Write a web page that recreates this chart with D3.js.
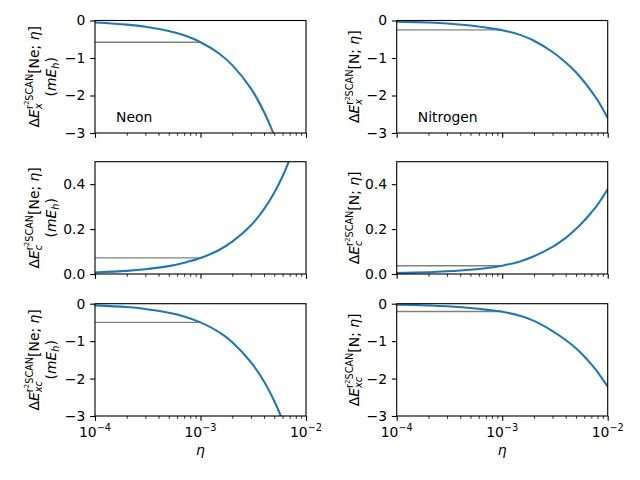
<!DOCTYPE html>
<html>
<head>
<meta charset="utf-8">
<script src="https://cdn.jsdelivr.net/npm/d3@7"></script>
<style>
  body { margin: 0; background: #fff; }
  svg { font-family: "DejaVu Sans", sans-serif; }
</style>
</head>
<body>
<svg id="fig" width="640" height="480"></svg>
<script>
// eta grid
var eta = [1e-4, 2e-4, 3e-4, 5e-4, 7e-4, 1e-3, 1.5e-3, 2e-3, 3e-3, 4e-3, 5e-3, 6e-3, 7e-3, 8e-3, 1e-2];

// exchange, correlation and xc errors (mE_h)
var neonX   = [-0.055, -0.11, -0.165, -0.28, -0.395, -0.58, -0.88, -1.19, -1.81, -2.44, -3.07, -3.7, -4.35, -5.0, -6.3];
var nitroX  = [-0.03, -0.055, -0.08, -0.135, -0.188, -0.26, -0.39, -0.54, -0.84, -1.12, -1.38, -1.64, -1.89, -2.12, -2.6];
var neonC   = [0.007, 0.014, 0.021, 0.035, 0.05, 0.071, 0.107, 0.144, 0.216, 0.289, 0.362, 0.435, 0.51, 0.585, 0.73];
var nitroC  = [0.004, 0.008, 0.012, 0.019, 0.026, 0.037, 0.057, 0.079, 0.121, 0.161, 0.2, 0.238, 0.274, 0.308, 0.377];
var neonXC  = [-0.045, -0.09, -0.14, -0.24, -0.34, -0.5, -0.76, -1.03, -1.56, -2.08, -2.6, -3.12, -3.64, -4.16, -5.2];
var nitroXC = [-0.025, -0.047, -0.068, -0.115, -0.158, -0.215, -0.33, -0.46, -0.73, -0.97, -1.19, -1.41, -1.62, -1.82, -2.22];

// value at eta = 1e-3 (grey reference line)
var refNeon  = [-0.58, 0.072, -0.5];
var refNitro = [-0.25, 0.037, -0.21];
var refEta = [1e-4, 1e-3];

var xMajor = [1e-4, 1e-3, 1e-2];
var xTickExp = ["\u22124", "\u22123", "\u22122"];
var yTicksE = [0, -1, -2, -3];
var yTicksC = [0.0, 0.2, 0.4];

var fs = 13.9;
var svg = d3.select("#fig");

var cols = [[95, 306], [396.7, 607.7]];
var rows = [[20.5, 133], [161.7, 274], [303.7, 416]];

var x = d3.scaleLog().domain([1e-4, 1e-2]);

var minor = [];
[1e-4, 1e-3].forEach(function (d) {
  for (var k = 2; k <= 9; k++) minor.push(d * k);
});

// writes a line of "mathtext" as tspans
function rich(sel, parts) {
  var cur = 0, prevLen = 0;
  parts.forEach(function (p) {
    var ts = sel.append("tspan").text(p.t);
    ts.attr("font-size", fs * (p.s || 1));
    var y = (p.y || 0) * fs;
    ts.attr("dy", -(y - cur));
    cur = y;
    if (p.i) ts.attr("font-style", "italic");
    if (p.back) ts.attr("dx", -prevLen);
    prevLen = ts.node().getComputedTextLength();
  });
}

function labelParts(sub, atom) {
  return [
    {t: "\u0394"}, {t: "E", i: true},
    {t: sub, i: true, s: 0.7, y: -0.22},
    {t: "r", s: 0.7, y: 0.42, back: true},
    {t: "2", s: 0.5, y: 0.7},
    {t: "SCAN", s: 0.7, y: 0.42},
    {t: "[" + atom + "; ", y: 0},
    {t: "\u03b7", i: true},
    {t: "]"}
  ];
}

var panels = [
  {r: 0, c: 0, v: neonX, ref: refNeon[0], dom: [-3, 0], ticks: yTicksE, fmt: d3.format("d"), sub: "x", atom: "Ne", name: "Neon"},
  {r: 0, c: 1, v: nitroX, ref: refNitro[0], dom: [-3, 0], ticks: yTicksE, fmt: d3.format("d"), sub: "x", atom: "N", name: "Nitrogen"},
  {r: 1, c: 0, v: neonC, ref: refNeon[1], dom: [0, 0.5], ticks: yTicksC, fmt: d3.format(".1f"), sub: "c", atom: "Ne"},
  {r: 1, c: 1, v: nitroC, ref: refNitro[1], dom: [0, 0.5], ticks: yTicksC, fmt: d3.format(".1f"), sub: "c", atom: "N"},
  {r: 2, c: 0, v: neonXC, ref: refNeon[2], dom: [-3, 0], ticks: yTicksE, fmt: d3.format("d"), sub: "xc", atom: "Ne"},
  {r: 2, c: 1, v: nitroXC, ref: refNitro[2], dom: [-3, 0], ticks: yTicksE, fmt: d3.format("d"), sub: "xc", atom: "N"}
];

panels.forEach(function (p, i) {
  var x0 = cols[p.c][0], x1 = cols[p.c][1];
  var y0 = rows[p.r][0], y1 = rows[p.r][1];
  var xs = x.copy().range([x0, x1]);
  var ys = d3.scaleLinear().domain(p.dom).range([y1, y0]);

  svg.append("clipPath").attr("id", "clip" + i)
    .append("rect").attr("x", x0).attr("y", y0).attr("width", x1 - x0).attr("height", y1 - y0);

  var g = svg.append("g").attr("clip-path", "url(#clip" + i + ")");

  g.append("path")
    .datum(refEta)
    .attr("fill", "none")
    .attr("stroke", "#808080")
    .attr("stroke-width", 1.4)
    .attr("d", d3.line().x(function (d) { return xs(d); }).y(function () { return ys(p.ref); }));

  g.append("path")
    .datum(eta)
    .attr("fill", "none")
    .attr("stroke", "#1f77b4")
    .attr("stroke-width", 2.08)
    .attr("d", d3.line()
      .x(function (d) { return xs(d); })
      .y(function (d, j) { return ys(p.v[j]); })
      .curve(d3.curveCatmullRom.alpha(0.5)));

  // axes
  var ya = svg.append("g").attr("transform", "translate(" + x0 + ",0)")
    .call(d3.axisLeft(ys).tickValues(p.ticks).tickFormat(p.fmt).tickSize(4.86).tickPadding(4.86));
  var xa = svg.append("g").attr("transform", "translate(0," + y1 + ")")
    .call(d3.axisBottom(xs).tickValues(xMajor).tickFormat("").tickSize(4.86));
  var xm = svg.append("g").attr("transform", "translate(0," + y1 + ")")
    .call(d3.axisBottom(xs).tickValues(minor).tickFormat("").tickSize(2.78));
  [ya, xa, xm].forEach(function (a) {
    a.select(".domain").remove();
    a.selectAll("line").attr("stroke", "#000").attr("stroke-width", 1.11);
    a.selectAll("text").attr("font-size", fs).attr("font-family", "DejaVu Sans").attr("fill", "#000");
  });
  xm.selectAll("line").attr("stroke-width", 0.83);

  svg.append("rect")
    .attr("x", x0).attr("y", y0).attr("width", x1 - x0).attr("height", y1 - y0)
    .attr("fill", "none").attr("stroke", "#000").attr("stroke-width", 1.11);

  // y label
  var cy = (y0 + y1) / 2;
  if (p.c === 0) {
    var t1 = svg.append("text").attr("text-anchor", "middle").attr("font-size", fs)
      .attr("transform", "translate(" + (x0 - 56) + "," + cy + ") rotate(-90)");
    rich(t1, labelParts(p.sub, "Ne"));
    var t2 = svg.append("text").attr("text-anchor", "middle").attr("font-size", fs)
      .attr("transform", "translate(" + (x0 - 39) + "," + cy + ") rotate(-90)");
    rich(t2, [{t: "("}, {t: "mE", i: true}, {t: "h", i: true, s: 0.7, y: -0.22}, {t: ")", y: 0}]);
  } else {
    var t3 = svg.append("text").attr("text-anchor", "middle").attr("font-size", fs)
      .attr("transform", "translate(" + (x0 - 37.4) + "," + cy + ") rotate(-90)");
    rich(t3, labelParts(p.sub, "N"));
  }

  if (p.name) {
    svg.append("text")
      .attr("x", x0 + 0.1 * (x1 - x0))
      .attr("y", y1 - 0.1 * (y1 - y0))
      .attr("font-size", fs)
      .text(p.name);
  }

  if (p.r === 2) {
    xMajor.forEach(function (d, k) {
      var t = svg.append("text").attr("text-anchor", "middle").attr("font-size", fs)
        .attr("x", xs(d)).attr("y", 437);
      rich(t, [{t: "10"}, {t: xTickExp[k], s: 0.7, y: 0.45}]);
    });
    svg.append("text").attr("text-anchor", "middle").attr("font-size", fs)
      .attr("font-style", "italic")
      .attr("x", (x0 + x1) / 2).attr("y", 455)
      .text("\u03b7");
  }
});
</script>
</body>
</html>
